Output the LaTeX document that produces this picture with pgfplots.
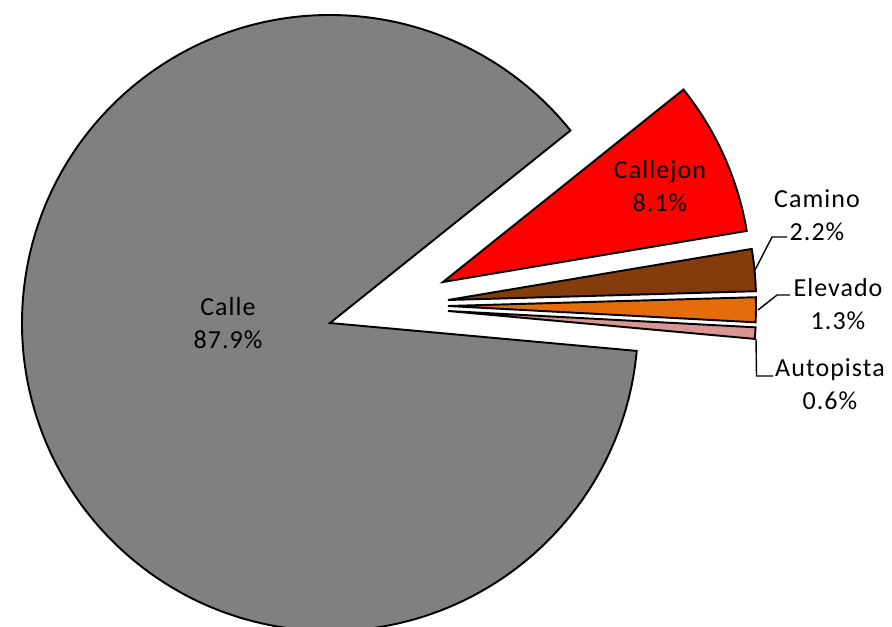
\documentclass[border=0pt]{standalone}
\usepackage{fontspec}
\setmainfont{Carlito}[LetterSpace=4]
\usepackage{pgfplots}
\pgfplotsset{compat=1.18}
\usepackage{pgfplotstable}

\definecolor{cCalle}{HTML}{808080}
\definecolor{cCallejon}{HTML}{FF0000}
\definecolor{cCamino}{HTML}{843C0C}
\definecolor{cElevado}{HTML}{E46C0A}
\definecolor{cAutopista}{HTML}{D99594}

% value = share in %, (px,py) = apex of the (exploded) slice, (lx,ly) = label centre
\pgfplotstableread{
name      value px  py  lx  ly  col
Calle     87.9  330 323 228 323 cCalle
Callejon  8.1   443 282 660 186 cCallejon
Camino    2.2   448 300 817 215 cCamino
Elevado   1.3   448 306 838 304 cElevado
Autopista 0.6   448 311 830 384 cAutopista
}\piedata

\begin{document}
\begin{tikzpicture}
\path[use as bounding box] (0,0) rectangle (8.92cm,6.26cm);
\clip (0,0) rectangle (8.92cm,6.26cm);
\begin{axis}[
    at={(0,0)}, anchor=south west,
    width=8.92cm, height=6.26cm,
    scale only axis,
    hide axis,
    xmin=0, xmax=892,
    ymin=0, ymax=626,
    y dir=reverse,
    clip=false,
  ]
  \pgfplotsextra{
    \gdef\angA{-5.2}
    \foreach \i in {0,...,4}{
      \pgfplotstablegetelem{\i}{value}\of\piedata \let\v\pgfplotsretval
      \pgfplotstablegetelem{\i}{px}\of\piedata \let\px\pgfplotsretval
      \pgfplotstablegetelem{\i}{py}\of\piedata \let\py\pgfplotsretval
      \pgfplotstablegetelem{\i}{col}\of\piedata \let\col\pgfplotsretval
      \pgfmathsetmacro\angB{\angA - \v*3.6/1.001}
      \filldraw[fill=\col, draw=black, line width=0.55pt, line join=miter]
        (axis cs:\px,\py) -- ++(\angA:3.08cm)
        arc[start angle=\angA, end angle=\angB, radius=3.08cm] -- cycle;
      \xdef\angA{\angB}
    }
    \foreach \i in {0,...,4}{
      \pgfplotstablegetelem{\i}{name}\of\piedata \let\nm\pgfplotsretval
      \pgfplotstablegetelem{\i}{value}\of\piedata \let\v\pgfplotsretval
      \pgfplotstablegetelem{\i}{lx}\of\piedata \let\lx\pgfplotsretval
      \pgfplotstablegetelem{\i}{ly}\of\piedata \let\ly\pgfplotsretval
      \node[align=center, inner sep=0pt, text=black,
            font=\fontsize{7.4}{9.4}\selectfont]
        at (axis cs:\lx,\ly) {\nm\\\v\%};
    }
    % leader lines
    \draw[line width=0.4pt] (axis cs:755,270) -- (axis cs:772,237) -- (axis cs:787,237);
    \draw[line width=0.4pt] (axis cs:758,310) -- (axis cs:777,295) -- (axis cs:790,295);
    \draw[line width=0.4pt] (axis cs:756,339) -- (axis cs:756.5,376) -- (axis cs:773,376);
  }
\end{axis}
\end{tikzpicture}
\end{document}
